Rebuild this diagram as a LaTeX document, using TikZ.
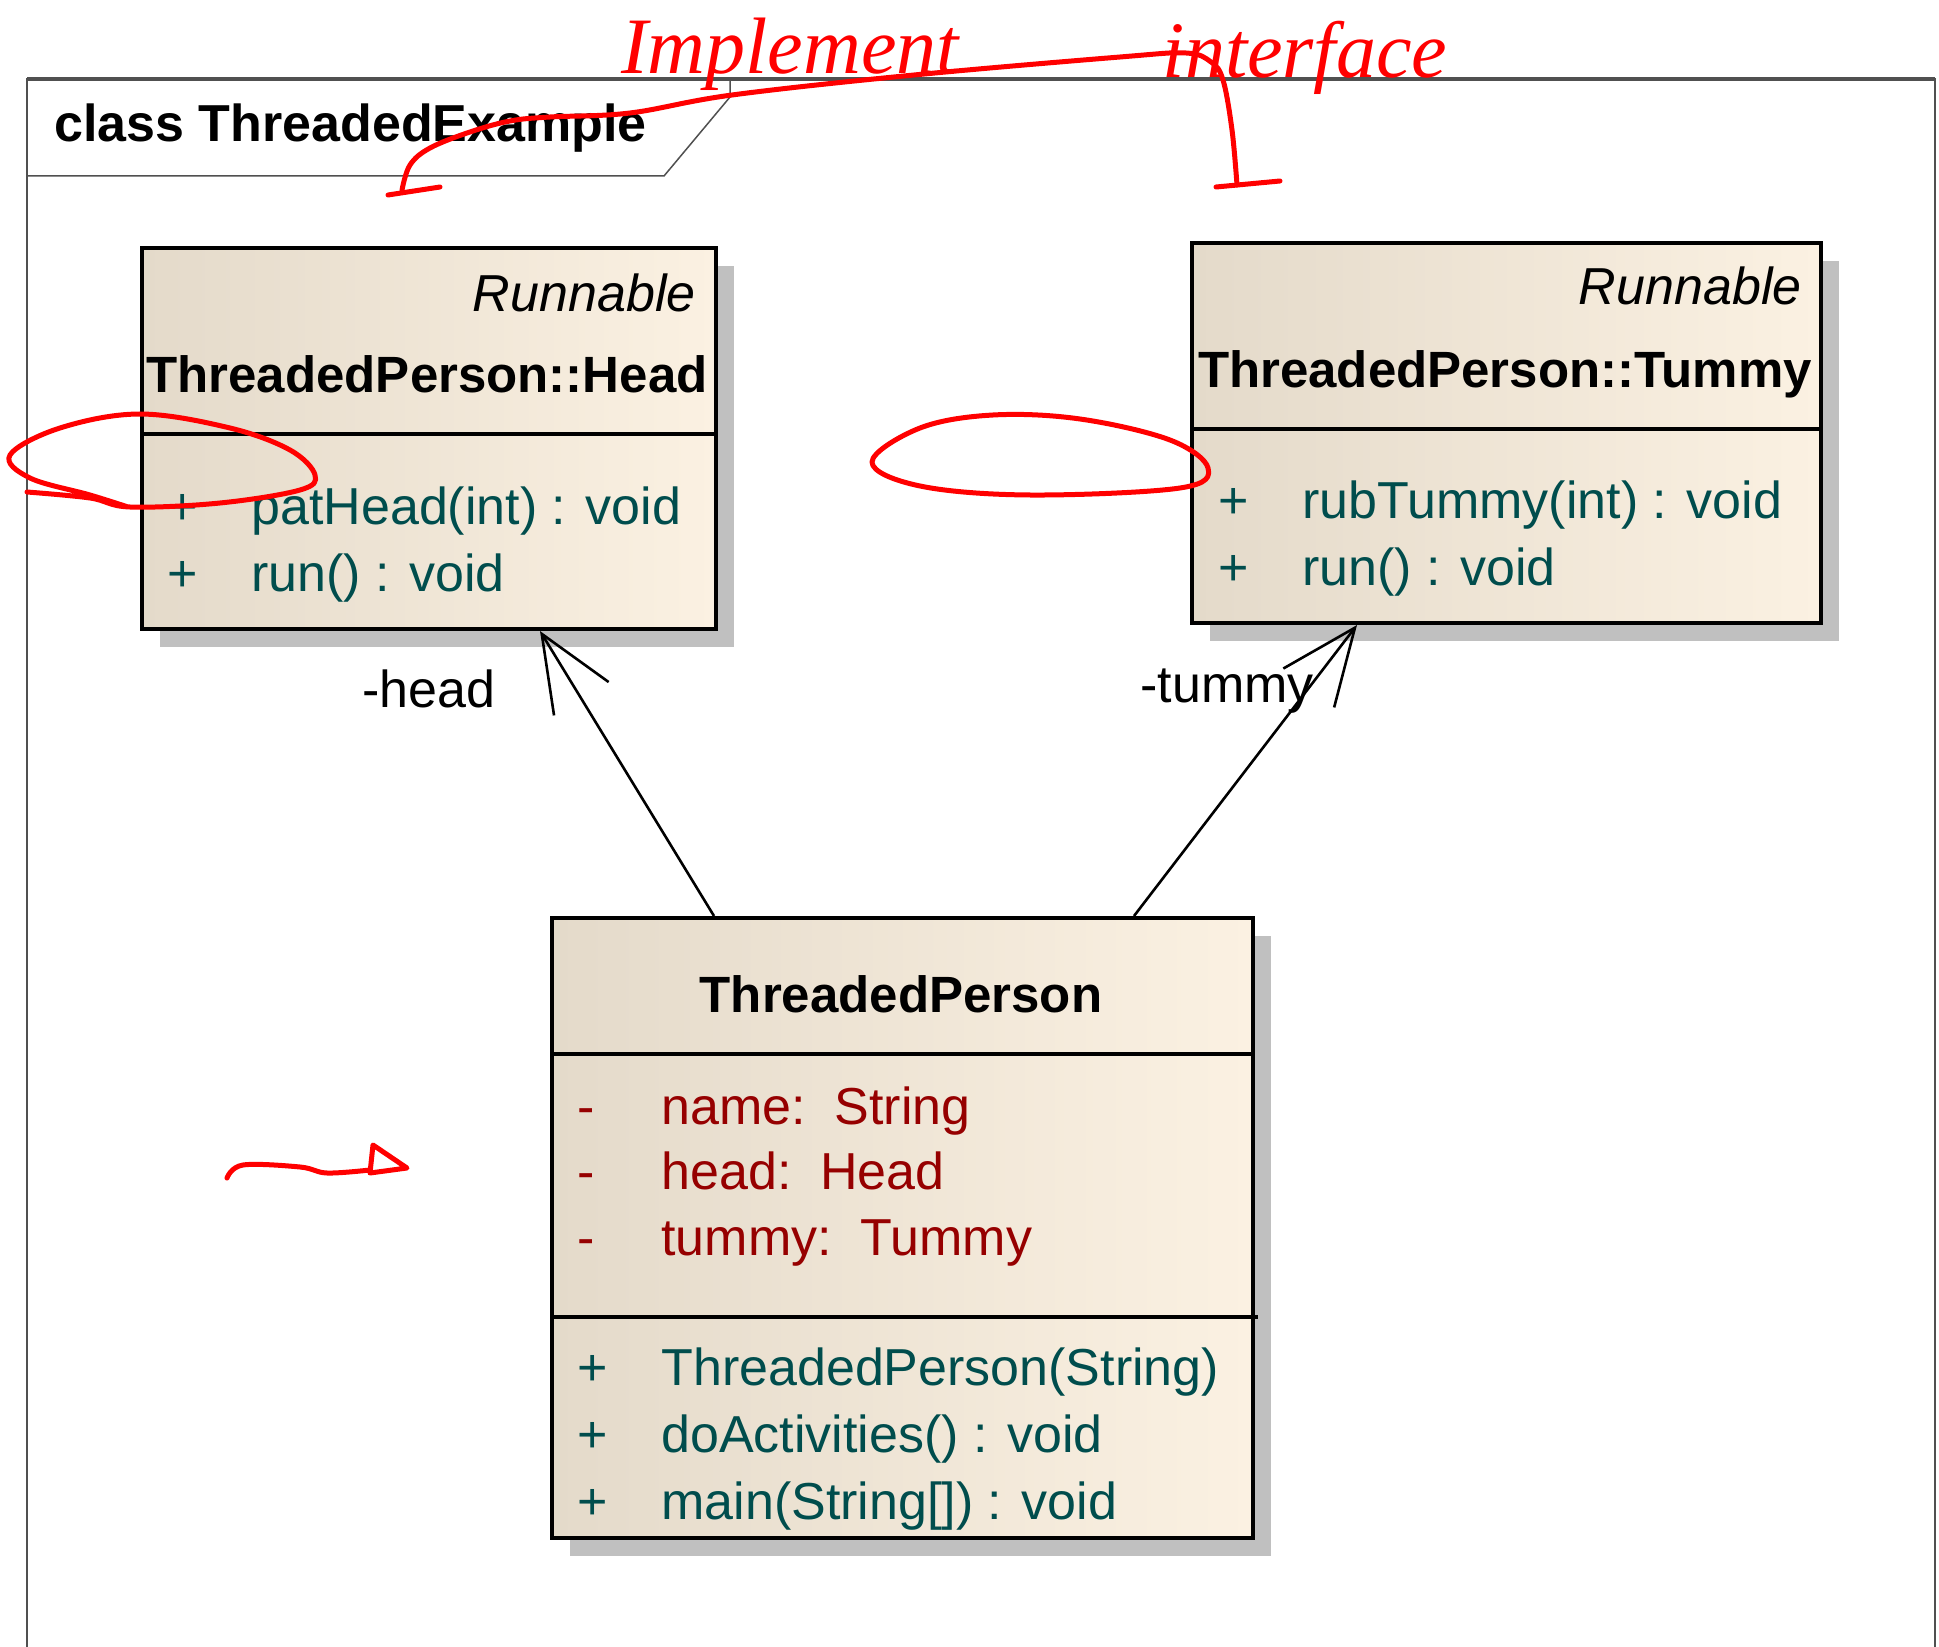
\documentclass[tikz,border=0pt]{standalone}
\usepackage{fontspec}
\setmainfont{Liberation Sans}
\newfontfamily\handfont{Liberation Serif}
\usepackage{tikz}
\usetikzlibrary{arrows.meta}
\usetikzlibrary{calc}
\usetikzlibrary{shadows}
\definecolor{boxl}{RGB}{228,218,202}
\definecolor{boxr}{RGB}{251,241,226}
\definecolor{attrred}{RGB}{150,0,0}
\definecolor{optea}{RGB}{0,77,77}
\definecolor{framegray}{RGB}{80,80,80}
\definecolor{shadowgray}{RGB}{192,192,192}
\definecolor{penred}{RGB}{255,0,0}
\newcommand\mem[2]{\makebox[42pt][l]{#1}#2}
\tikzstyle{classbox}=[draw,line width=2pt,anchor=north west,inner sep=0pt,left color=boxl,right color=boxr,
  drop shadow={shadow xshift=9pt,shadow yshift=-9pt,fill=shadowgray,opacity=1}]
\tikzstyle{sep}=[line width=2pt]
\tikzstyle{txt}=[inner sep=0pt,font=\fontsize{26}{30}\selectfont]
\tikzstyle{cname}=[txt,font=\fontsize{25.5}{30}\selectfont\bfseries,anchor=base]
\tikzstyle{stereo}=[txt,font=\fontsize{26}{30}\selectfont\itshape,anchor=base east]
\tikzstyle{op}=[txt,text=optea,anchor=base west]
\tikzstyle{attr}=[txt,text=attrred,anchor=base west]
\tikzstyle{role}=[txt,anchor=base west]
\tikzstyle{assoc}=[line width=1.3pt,-{Straight Barb[length=38pt,width=32pt,line width=1.3pt]}]
\tikzstyle{pen}=[draw=penred,line width=2.5pt,line cap=round,line join=round]
\tikzstyle{hand}=[inner sep=0pt,text=penred,font=\handfont\itshape\fontsize{40}{44}\selectfont]

\begin{document}
\begin{tikzpicture}[x=0.5pt,y=-0.5pt]
	\useasboundingbox (0,0) rectangle (1939,1647);
	% frame
	\draw[framegray,line width=1pt] (27,1647) -- (27,79) -- (1935,79) -- (1935,1647);
	\draw[framegray,line width=2pt] (27,79) -- (1935,79);
	\draw[framegray,line width=0.75pt] (27,176) -- (664,176) -- (730,97) -- (730,79);
	\node[txt,font=\fontsize{26}{30}\selectfont\bfseries,anchor=base west] (frame) at (54,142) {class ThreadedExample};
	%
	\node[classbox,minimum width=287pt,minimum height=190.5pt] (head) at (140,246) {};
	\node[classbox,minimum width=314.5pt,minimum height=190pt] (tummy) at (1190,241) {};
	\node[classbox,minimum width=350.5pt,minimum height=310pt] (person) at (550,916) {};
	%
	\draw[sep] (140,434) -- (714,434);
	\draw[sep] (1190,429) -- (1819,429);
	\draw[sep] (550,1054) -- (1251,1054);
	\draw[sep] (550,1317) -- (1258,1317);
	%
	\node[stereo] (headst) at (696,312) {Runnable};
	\node[cname] (headnm) at (427,393) {ThreadedPerson::Head};
	\node[op] (headop1) at (167,524) {\mem{+}{patHead(int) : void}};
	\node[op] (headop2) at (167,591) {\mem{+}{run() : void}};
	%
	\node[stereo] (tummyst) at (1802,305) {Runnable};
	\node[cname] (tummynm) at (1505,388) {ThreadedPerson::Tummy};
	\node[op] (tummyop1) at (1218,518) {\mem{+}{rubTummy(int) : void}};
	\node[op] (tummyop2) at (1218,585) {\mem{+}{run() : void}};
	%
	\node[cname] (personnm) at (901,1012) {ThreadedPerson};
	\node[attr] (personat1) at (577,1124) {\mem{-}{name:\ \ String}};
	\node[attr] (personat2) at (577,1189) {\mem{-}{head:\ \ Head}};
	\node[attr] (personat3) at (577,1255) {\mem{-}{tummy:\ \ Tummy}};
	\node[op] (personop1) at (577,1385) {\mem{+}{ThreadedPerson(String)}};
	\node[op] (personop2) at (577,1452) {\mem{+}{doActivities() : void}};
	\node[op] (personop3) at (577,1519) {\mem{+}{main(String[]) : void}};
	%
	\draw[assoc] ($(person.north west)+(164,0)$) -- ($(head.south west)+(400,0)$);
	\draw[assoc] ($(person.north west)+(584,0)$) -- ($(tummy.south west)+(167,0)$);
	\node[role] (headrole) at (362,707) {-head};
	\node[role] (tummyrole) at (1140,702) {-tummy};
	%
	% red pen notes
	\node[hand] (implnote) at (790,54) {Implement};
	\node[hand] (ifacenote) at (1305,58) {interface};
	\draw[pen] plot[smooth,tension=0.6] coordinates {(402,190) (410,165) (430,148) (470,132) (510,121) (550,117) (630,113) (732,95) (914,75) (1120,57) (1186,53) (1211,62) (1223,80) (1232,130) (1237,185)};
	\draw[pen] (388,195) -- (440,187);
	\draw[pen] (1216,187) -- (1280,181);
	\draw[pen] plot[smooth,tension=0.6] coordinates {(27,492) (90,498) (130,507) (220,503) (300,490) (315,475) (290,450) (230,428) (140,414) (60,428) (10,455) (30,478) (90,495) (128,507)};
	\draw[pen] plot[smooth cycle,tension=0.6] coordinates {(872,462) (920,428) (993,415) (1080,419) (1170,440) (1208,468) (1180,488) (1030,495) (920,486)};
	\draw[pen] plot[smooth,tension=0.6] coordinates {(227,1178) (243,1165) (300,1167) (327,1173) (370,1170)};
	\draw[pen] (370,1173) -- (373,1145) -- (407,1168) -- cycle;
\end{tikzpicture}
\end{document}
